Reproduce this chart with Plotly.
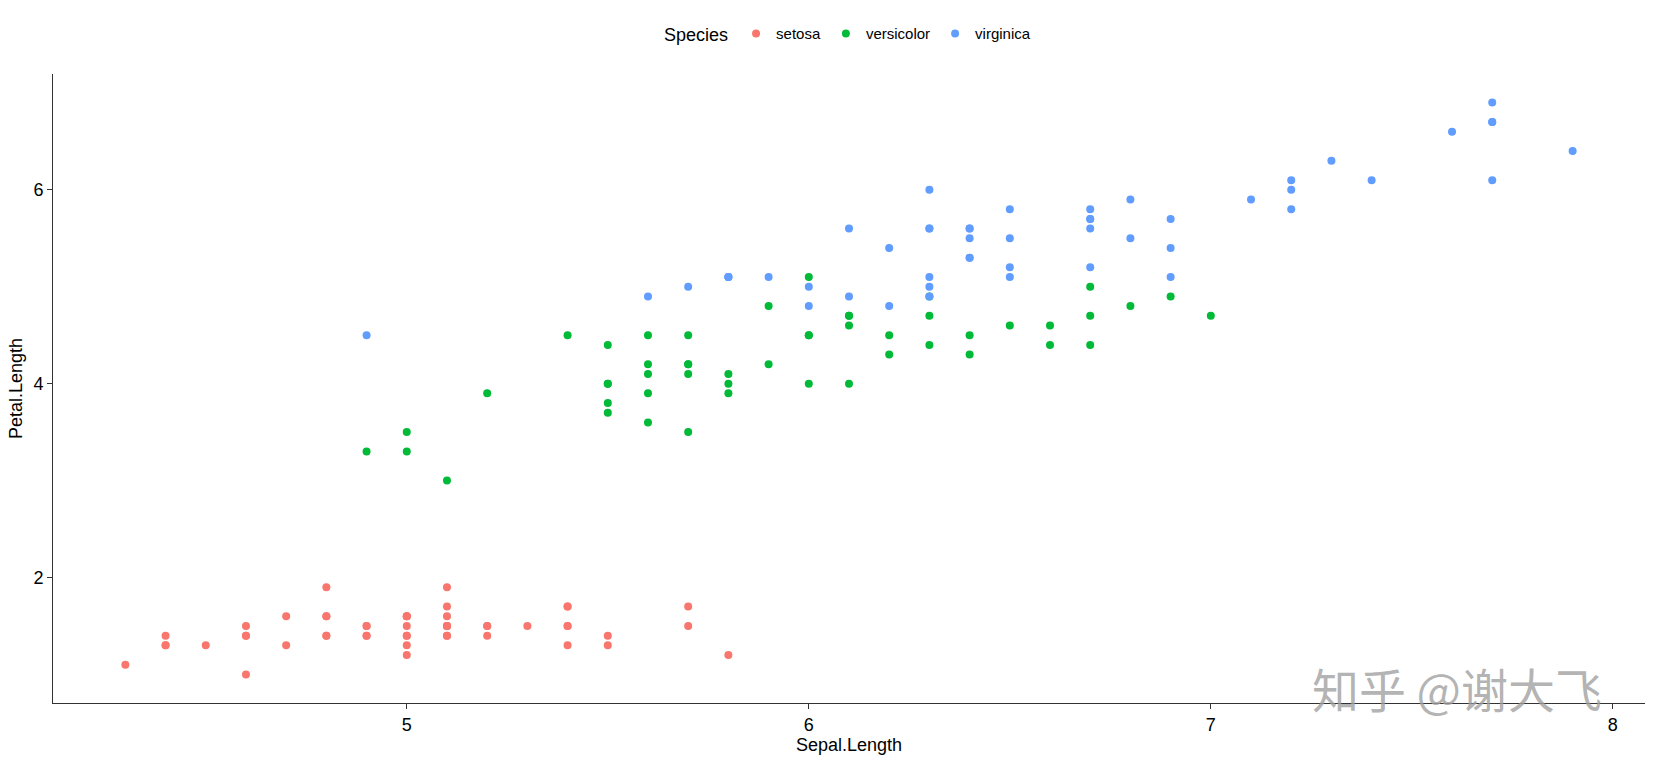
import plotly.graph_objects as go

species = ["setosa", "versicolor", "virginica"]
colors = {"setosa": "#F8766D", "versicolor": "#00BA38", "virginica": "#619CFF"}

setosa_sepal = [5.1,4.9,4.7,4.6,5.0,5.4,4.6,5.0,4.4,4.9,5.4,4.8,4.8,4.3,5.8,5.7,5.4,5.1,5.7,5.1,
                5.4,5.1,4.6,5.1,4.8,5.0,5.0,5.2,5.2,4.7,4.8,5.4,5.2,5.5,4.9,5.0,5.5,4.9,4.4,5.1,
                5.0,4.5,4.4,5.0,5.1,4.8,5.1,4.6,5.3,5.0]
setosa_petal = [1.4,1.4,1.3,1.5,1.4,1.7,1.4,1.5,1.4,1.5,1.5,1.6,1.4,1.1,1.2,1.5,1.3,1.4,1.7,1.5,
                1.7,1.5,1.0,1.7,1.9,1.6,1.6,1.5,1.4,1.6,1.6,1.5,1.5,1.4,1.5,1.2,1.3,1.4,1.3,1.5,
                1.3,1.3,1.3,1.6,1.9,1.4,1.6,1.4,1.5,1.4]
versicolor_sepal = [7.0,6.4,6.9,5.5,6.5,5.7,6.3,4.9,6.6,5.2,5.0,5.9,6.0,6.1,5.6,6.7,5.6,5.8,6.2,5.6,
                    5.9,6.1,6.3,6.1,6.4,6.6,6.8,6.7,6.0,5.7,5.5,5.5,5.8,6.0,5.4,6.0,6.7,6.3,5.6,5.5,
                    5.5,6.1,5.8,5.0,5.6,5.7,5.7,6.2,5.1,5.7]
versicolor_petal = [4.7,4.5,4.9,4.0,4.6,4.5,4.7,3.3,4.6,3.9,3.5,4.2,4.0,4.7,3.6,4.4,4.5,4.1,4.5,3.9,
                    4.8,4.0,4.9,4.7,4.3,4.4,4.8,5.0,4.5,3.5,3.8,3.7,3.9,5.1,4.5,4.5,4.7,4.4,4.1,4.0,
                    4.4,4.6,4.0,3.3,4.2,4.2,4.2,4.3,3.0,4.1]
virginica_sepal = [6.3,5.8,7.1,6.3,6.5,7.6,4.9,7.3,6.7,7.2,6.5,6.4,6.8,5.7,5.8,6.4,6.5,7.7,7.7,6.0,
                   6.9,5.6,7.7,6.3,6.7,7.2,6.2,6.1,6.4,7.2,7.4,7.9,6.4,6.3,6.1,7.7,6.3,6.4,6.0,6.9,
                   6.7,6.9,5.8,6.8,6.7,6.7,6.3,6.5,6.2,5.9]
virginica_petal = [6.0,5.1,5.9,5.6,5.8,6.6,4.5,6.3,5.8,6.1,5.1,5.3,5.5,5.0,5.1,5.3,5.5,6.7,6.9,5.0,
                   5.7,4.9,6.7,4.9,5.7,6.0,4.8,4.9,5.6,5.8,6.1,6.4,5.6,5.1,5.6,6.1,5.6,5.5,4.8,5.4,
                   5.6,5.1,5.1,5.9,5.7,5.2,5.0,5.2,5.4,5.1]

data = {
    "setosa": (setosa_sepal, setosa_petal),
    "versicolor": (versicolor_sepal, versicolor_petal),
    "virginica": (virginica_sepal, virginica_petal),
}

x_ticks = [5, 6, 7, 8]
y_ticks = [2, 4, 6]

FONT = "Liberation Sans, Arial, sans-serif"

fig = go.Figure()
for sp in species:
    xs, ys = data[sp]
    fig.add_trace(go.Scatter(
        x=xs, y=ys, mode="markers", name=sp,
        marker=dict(color=colors[sp], size=8, line=dict(width=0)),
    ))

axis_common = dict(
    showgrid=False, zeroline=False, showline=True, linecolor="#333333", linewidth=1,
    ticks="outside", ticklen=5, tickwidth=1, tickcolor="#333333",
    tickfont=dict(family=FONT, size=18, color="#000000"),
    mirror=False,
)

fig.update_xaxes(range=[4.12, 8.08], tickvals=x_ticks,
                 title=dict(text="Sepal.Length", font=dict(family=FONT, size=18, color="#000000"), standoff=4),
                 **axis_common)
fig.update_yaxes(range=[0.705, 7.195], tickvals=y_ticks,
                 title=dict(text="Petal.Length", font=dict(family=FONT, size=18, color="#000000"), standoff=6),
                 **axis_common)

fig.add_annotation(
    text="知乎 @谢大飞", xref="paper", yref="paper", x=0.974, y=0.024,
    xanchor="right", yanchor="middle", showarrow=False,
    font=dict(family="Noto Sans CJK SC", size=47, color="rgba(160,160,160,0.8)"),
)

fig.update_layout(
    width=1657, height=763,
    margin=dict(l=53, r=12, t=74, b=60),
    plot_bgcolor="white", paper_bgcolor="white",
    font=dict(family=FONT, color="#000000"),
    showlegend=True,
    legend=dict(
        orientation="h", x=0.5, xanchor="center", y=0.955, yanchor="middle",
        yref="container",
        title=dict(text="Species", font=dict(family=FONT, size=18), side="left"),
        font=dict(family=FONT, size=15),
        itemsizing="trace",
    ),
)

fig.write_html("out.html")
